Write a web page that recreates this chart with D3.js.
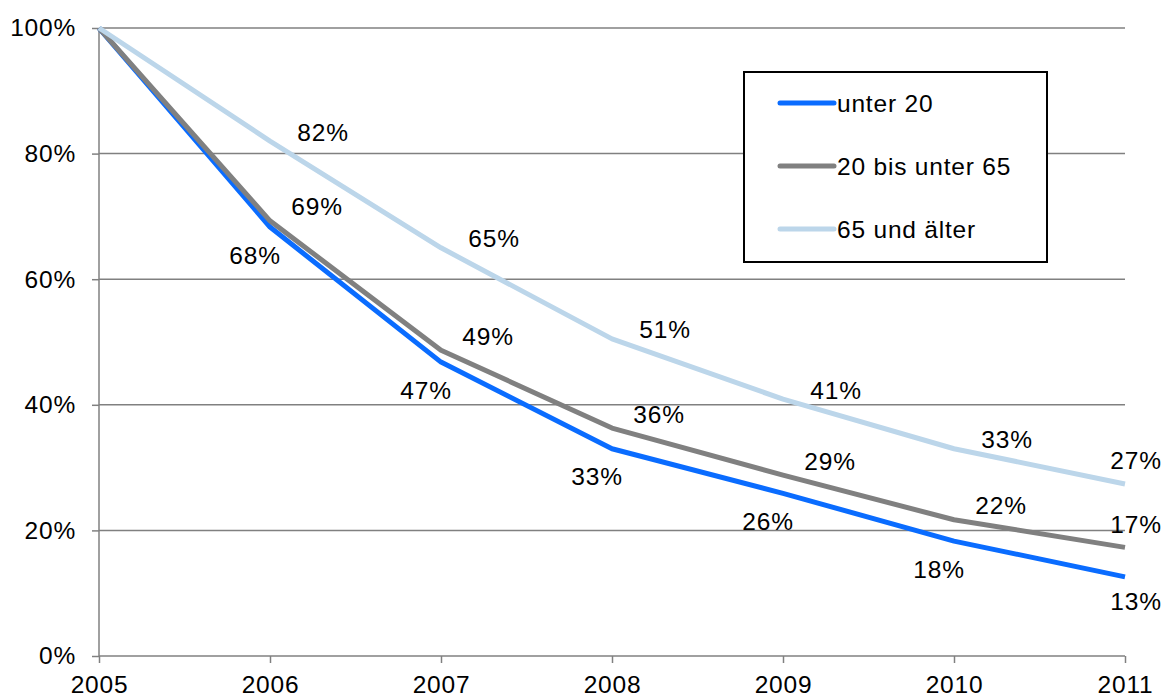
<!DOCTYPE html>
<html>
<head>
<meta charset="utf-8">
<script src="https://d3js.org/d3.v7.min.js"></script>
<style>
  body { margin: 0; background: #fff; }
  text { font-family: "Liberation Sans", Arial, sans-serif; letter-spacing: 0.8px; }
</style>
</head>
<body>
<div id="chart"></div>
<script>
var years = [2005, 2006, 2007, 2008, 2009, 2010, 2011];
var unter20 = [100, 68.3, 46.8, 33.0, 25.9, 18.3, 12.6];
var mitte = [100, 69.3, 48.7, 36.3, 28.8, 21.7, 17.3];
var ab65 = [100, 82.0, 65.0, 50.5, 40.9, 33.0, 27.4];
var yTicks = [0, 20, 40, 60, 80, 100];

var series = [
  {name: "unter 20", values: unter20, color: "#0a6cff"},
  {name: "20 bis unter 65", values: mitte, color: "#808080"},
  {name: "65 und älter", values: ab65, color: "#bcd6ea"}
];

function init()
{
  var margin = {top: 28, right: 39, bottom: 41, left: 99};
  var width = 1164 - margin.left - margin.right;
  var height = 697 - margin.top - margin.bottom;
  var fontSize = "24.5px";

  var svg = d3.select("#chart")
    .append("svg")
    .attr("width", 1164)
    .attr("height", 697)
    .append("g")
    .attr("transform", "translate(" + margin.left + "," + margin.top + ")");

  var xScale = d3.scaleLinear()
    .domain([2005, 2011])
    .range([0, width]);

  var yScale = d3.scaleLinear()
    .domain([0, 100])
    .range([height, 0]);

  // gridlines
  svg.selectAll(".grid")
    .data(yTicks.filter(function(d) {return d > 0;}))
    .enter()
    .append("line")
      .attr("x1", 0)
      .attr("x2", width)
      .attr("y1", function(d) {return yScale(d);})
      .attr("y2", function(d) {return yScale(d);})
      .style("stroke", "#808080")
      .style("stroke-width", "1.5");

  var yAxis = d3.axisLeft(yScale)
    .tickValues(yTicks)
    .tickSize(7)
    .tickPadding(16)
    .tickFormat(function(d) {return d + "%";});

  var xAxis = d3.axisBottom(xScale)
    .tickValues(years)
    .tickSize(7)
    .tickPadding(13)
    .tickFormat(d3.format("d"));

  var gy = svg.append("g").call(yAxis);
  var gx = svg.append("g")
    .attr("transform", "translate(0," + height + ")")
    .call(xAxis);

  [gx, gy].forEach(function(g) {
    g.selectAll("path, line").style("stroke", "#808080").style("stroke-width", "1.5");
    g.selectAll("text")
      .style("font-size", fontSize)
      .style("fill", "#000");
  });
  gy.select(".domain").attr("d", "M0," + height + "V0");
  gx.select(".domain").attr("d", "M0,0H" + width);

  var line = d3.line()
    .x(function(d, i) {return xScale(years[i]);})
    .y(function(d) {return yScale(d);});

  series.forEach(function(s) {
    svg.append("path")
      .datum(s.values)
      .attr("d", line)
      .style("fill", "none")
      .style("stroke", s.color)
      .style("stroke-width", "5")
      .style("stroke-linejoin", "round");
  });

  // data labels (skip 2005)
  var last = years.length - 1;
  function addLabels(values, pos) {
    svg.selectAll(null)
      .data(values.slice(1))
      .enter()
      .append("text")
        .attr("x", function(d, i) {
          var px = xScale(years[i + 1]);
          return px + (i + 1 === last ? pos.lastDx : pos.dx);
        })
        .attr("y", function(d, i) {
          var py = yScale(d);
          return py + (i + 1 === last ? pos.lastDy : pos.dy);
        })
        .attr("dy", "0.35em")
        .style("text-anchor", "middle")
        .style("font-size", fontSize)
        .text(function(d) {return Math.round(d) + "%";});
  }
  addLabels(unter20, {dx: -15, dy: 28, lastDx: 11, lastDy: 25});
  addLabels(mitte, {dx: 47, dy: -14, lastDx: 11, lastDy: -23});
  addLabels(ab65, {dx: 53, dy: -9, lastDx: 11, lastDy: -24});

  // legend
  var legend = svg.append("g")
    .attr("transform", "translate(" + (744 - margin.left) + "," + (72 - margin.top) + ")");

  legend.append("rect")
    .attr("width", 303)
    .attr("height", 190)
    .style("fill", "#fff")
    .style("stroke", "#000")
    .style("stroke-width", "2");

  series.forEach(function(s, i) {
    var ly = 31 + i * 63;
    legend.append("line")
      .attr("x1", 36)
      .attr("x2", 90)
      .attr("y1", ly)
      .attr("y2", ly)
      .style("stroke", s.color)
      .style("stroke-width", "5")
      .style("stroke-linecap", "round");
    legend.append("text")
      .attr("x", 93)
      .attr("y", ly)
      .attr("dy", "0.35em")
      .style("font-size", fontSize)
      .text(s.name);
  });
}

window.onload = init();
</script>
</body>
</html>
